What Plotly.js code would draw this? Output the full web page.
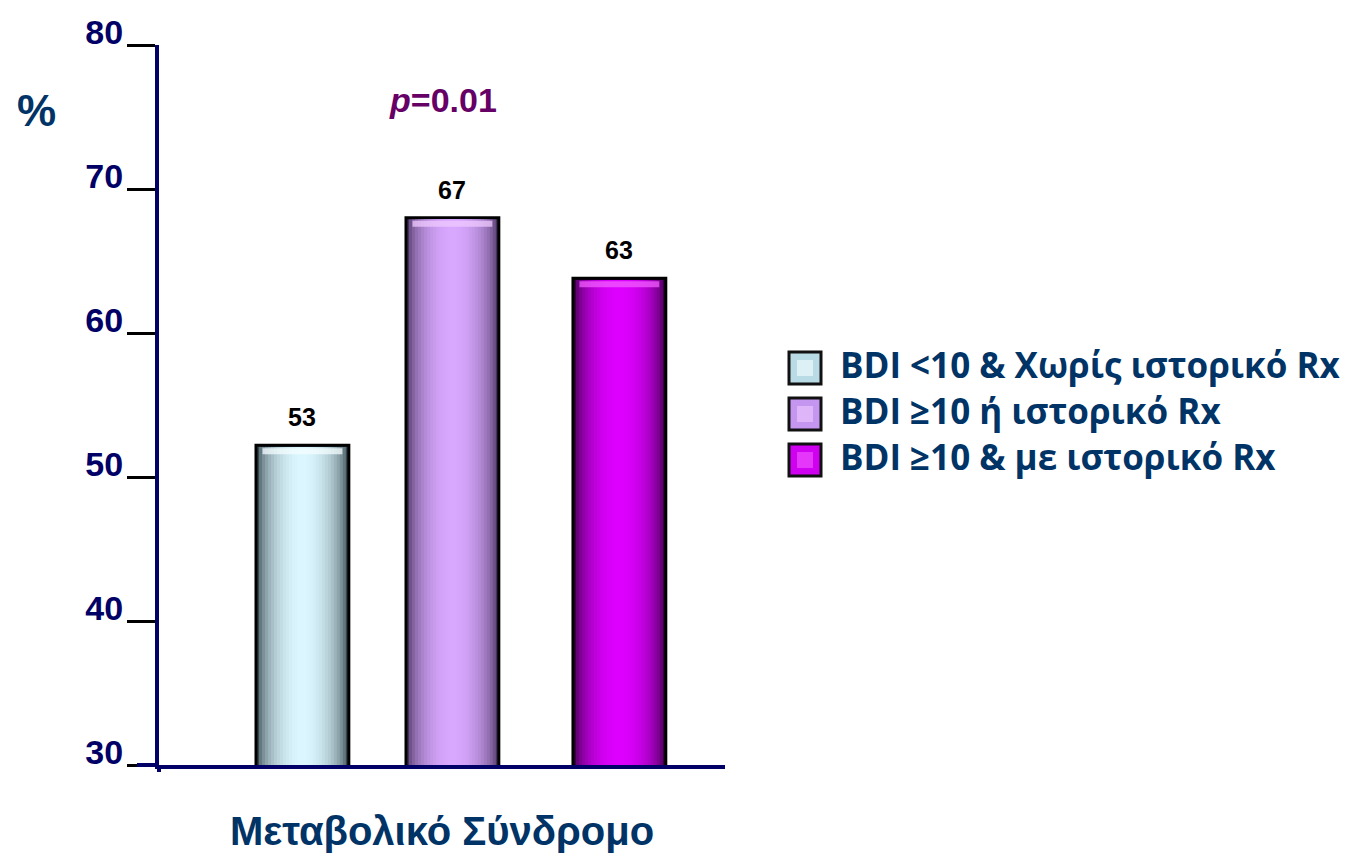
<!DOCTYPE html>
<html>
<head>
<meta charset="utf-8">
<script src="https://cdn.plot.ly/plotly-3.0.1.min.js"></script>
<style>html,body{margin:0;padding:0;background:#fff;}#chart{width:1353px;height:855px;}</style>
</head>
<body>
<div id="chart"></div>
<script>
// ---- data ----
const categories = ["Μεταβολικό Σύνδρομο"];
const seriesNames = ["BDI <10 & Χωρίς ιστορικό Rx", "BDI ≥10 ή ιστορικό Rx", "BDI ≥10 & με ιστορικό Rx"];
const seriesValues = [52.2, 68.0, 63.8];
const valueLabels = ["53", "67", "63"];
const yTickValues = [30, 40, 50, 60, 70, 80];
const pValueText = "<i>p</i>=0.01";
const yUnitText = "%";

// ---- styling ----
const edgeColors   = ["#34454d", "#44305a", "#360042"];
const centerColors = ["#dcf7ff", "#d9a8ff", "#de00ff"];
const hiColors     = ["#f4feff", "#efcaff", "#f25cff"];
const legendFill   = ["#b9dbe6", "#c596f0", "#d000f0"];
const barOffsets = [-0.3286, -0.0636, 0.2314];
const barWidth = 0.164;

const L = 159, R = 725, T = 45, B = 765;
const px2x = p => (p - L) / (R - L);
const py2y = p => (B - p) / (B - T);

function hex2rgb(h){return [1,3,5].map(i=>parseInt(h.substr(i,2),16));}
function mix(a,b,t){const A=hex2rgb(a),Bc=hex2rgb(b);return 'rgb('+A.map((v,i)=>Math.round(v+(Bc[i]-v)*t)).join(',')+')';}

const traces = [];
const N = 14;
seriesValues.forEach((v, i) => {
  traces.push({
    type: 'bar', x: categories, y: [v], name: seriesNames[i],
    offset: barOffsets[i], width: barWidth,
    marker: {color: edgeColors[i], line: {color: '#000', width: 3}},
    showlegend: false, hoverinfo: 'y+name'
  });
  for (let k = 1; k <= N; k++) {
    const frac = 1 - k / (N + 1) * 0.97;
    const w = barWidth * frac;
    const t = Math.pow(Math.max(0, 1 - frac * frac), 0.6);
    traces.push({
      type: 'bar', x: categories, y: [v - 0.12],
      offset: barOffsets[i] + (barWidth - w) / 2, width: w,
      marker: {color: mix(edgeColors[i], centerColors[i], t), line: {width: 0}},
      showlegend: false, hoverinfo: 'skip'
    });
  }
  // top bevel highlight
  const hw = barWidth * 0.86;
  traces.push({
    type: 'bar', x: categories, y: [0.42], base: [v - 0.62],
    offset: barOffsets[i] + (barWidth - hw) / 2, width: hw,
    marker: {color: hiColors[i], opacity: 0.75, line: {width: 0}},
    showlegend: false, hoverinfo: 'skip'
  });
});

const annotations = [];
seriesValues.forEach((v, i) => {
  annotations.push({
    x: barOffsets[i] + barWidth / 2, y: v, xref: 'x', yref: 'y',
    xanchor: 'center', yanchor: 'middle',
    text: '<b>' + valueLabels[i] + '</b>', showarrow: false, yshift: 28,
    font: {family: 'Liberation Sans, Arial, sans-serif', size: 25, color: '#000'}
  });
});
annotations.push({
  x: px2x(443), y: py2y(100), xref: 'paper', yref: 'paper', showarrow: false,
  xanchor: 'center', yanchor: 'middle',
  text: '<b>' + pValueText + '</b>',
  font: {family: 'Liberation Sans, Arial, sans-serif', size: 34, color: '#660066'}
});
annotations.push({
  x: px2x(36), y: py2y(110), xref: 'paper', yref: 'paper', showarrow: false,
  xanchor: 'center', yanchor: 'middle',
  text: '<b>' + yUnitText + '</b>',
  font: {family: 'Liberation Sans, Arial, sans-serif', size: 44, color: '#003366'}
});

const legendRows = [368, 414, 460];
const shapes = [];
seriesNames.forEach((n, i) => {
  const cy = legendRows[i];
  shapes.push({type: 'rect', xref: 'paper', yref: 'paper',
    x0: px2x(789), x1: px2x(821), y0: py2y(cy + 16), y1: py2y(cy - 16),
    fillcolor: legendFill[i], line: {color: '#111', width: 3}});
  shapes.push({type: 'rect', xref: 'paper', yref: 'paper',
    x0: px2x(797), x1: px2x(813), y0: py2y(cy + 8), y1: py2y(cy - 8),
    fillcolor: hiColors[i], opacity: 0.6, line: {width: 0}});
  annotations.push({
    x: px2x(838), y: py2y(cy - 4), xref: 'paper', yref: 'paper', showarrow: false,
    xanchor: 'left', yanchor: 'middle', text: '<b>' + n + '</b>',
    font: {family: 'Open Sans, sans-serif', size: 35, color: '#003366'}
  });
});
// axis line extensions
shapes.push({type: 'line', xref: 'paper', yref: 'paper', x0: px2x(137), x1: 0, y0: 0, y1: 0,
  line: {color: '#000066', width: 4}});
shapes.push({type: 'line', xref: 'paper', yref: 'paper', x0: 0, x1: 0, y0: py2y(772), y1: 0,
  line: {color: '#000066', width: 4}});

const layout = {
  width: 1353, height: 855,
  margin: {l: L, r: 1353 - R, t: T, b: 855 - B, pad: 0},
  paper_bgcolor: '#fff', plot_bgcolor: '#fff',
  barmode: 'overlay',
  showlegend: false,
  xaxis: {
    type: 'category', range: [-0.5, 0.5], showgrid: false, zeroline: false,
    showline: true, linecolor: '#000066', linewidth: 4, ticks: '',
    ticklabelstandoff: 28,
    tickfont: {family: 'Liberation Sans, Arial, sans-serif', size: 40, color: '#003366', weight: 'bold'}
  },
  yaxis: {
    range: [30, 80], tickvals: yTickValues, showgrid: false, zeroline: false,
    showline: true, linecolor: '#000066', linewidth: 4,
    ticks: 'outside', ticklen: 28, tickwidth: 3, tickcolor: '#000',
    ticklabelshift: -13, ticklabelstandoff: -3,
    tickfont: {family: 'Liberation Sans, Arial, sans-serif', size: 34, color: '#000066', weight: 'bold'}
  },
  annotations: annotations,
  shapes: shapes
};

Plotly.newPlot('chart', traces, layout, {displayModeBar: false, staticPlot: true});
</script>
</body>
</html>
